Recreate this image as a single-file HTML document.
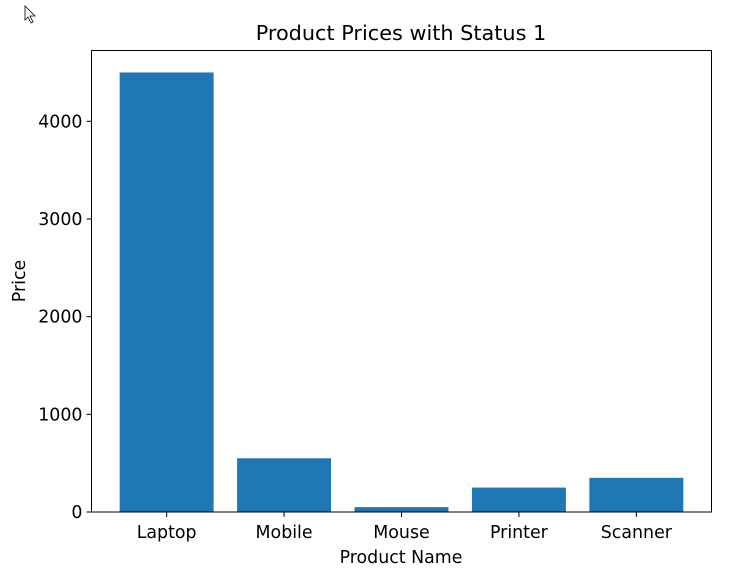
<!DOCTYPE html>
<html><head><meta charset="utf-8"><style>
html,body{margin:0;padding:0;background:#fff;}
svg text{font-family:"DejaVu Sans","Liberation Sans",sans-serif;fill:#000;}
</style></head><body>
<svg id="chart" width="754" height="573" viewBox="0 0 754 573" xmlns="http://www.w3.org/2000/svg">
<path d="M25,6 L25,20 L28,17 L31,23 L33,22 L30,16 L35,16 Z" fill="#fff" stroke="#000" stroke-width="0.8"/>
<text x="401" y="40" font-size="20.8" text-anchor="middle">Product Prices with Status 1</text>
<g id="bars"></g>
<g id="axes"></g>
<rect x="91.5" y="50.5" width="620" height="461.5" fill="none" stroke="#000" stroke-width="1"/>
<text x="401" y="563" font-size="17.4" text-anchor="middle">Product Name</text>
<text transform="translate(25,281) rotate(-90)" font-size="17.4" text-anchor="middle">Price</text>
</svg>
<script>
const categories = ["Laptop","Mobile","Mouse","Printer","Scanner"];
const prices = [4500, 550, 50, 250, 350];
const yTicks = [0, 1000, 2000, 3000, 4000];
const yTickLabels = ["0","1000","2000","3000","4000"];

const L=91.5,R=711.5,T=50.5,B=512;
const xMin=-0.64,xMax=categories.length-1+0.64;
const yMax=Math.max(...prices)*1.05;
const x=i=>L+(i-xMin)/(xMax-xMin)*(R-L);
const y=v=>B-v/yMax*(B-T);
const ns="http://www.w3.org/2000/svg";
const bars=document.getElementById('bars'),axes=document.getElementById('axes');
const bw=0.8*(R-L)/(xMax-xMin);
prices.forEach((v,i)=>{
  const r=document.createElementNS(ns,'rect');
  
  
  r.setAttribute('x',x(i)-bw/2);r.setAttribute('width',bw);
  r.setAttribute('y',y(v));r.setAttribute('height',B-y(v));
  r.setAttribute('fill','#1f77b4');
  bars.appendChild(r);
});
categories.forEach((c,i)=>{
  const t=document.createElementNS(ns,'line');
  
  
  t.setAttribute('x1',x(i));t.setAttribute('x2',x(i));t.setAttribute('y1',B);t.setAttribute('y2',B+5);
  t.setAttribute('stroke','#000');axes.appendChild(t);
  const l=document.createElementNS(ns,'text');
  
  
  l.setAttribute('x',x(i));l.setAttribute('y',B+26);l.setAttribute('font-size','17.4');l.setAttribute('text-anchor','middle');
  l.textContent=c;axes.appendChild(l);
});
yTicks.forEach((v,i)=>{
  const t=document.createElementNS(ns,'line');
  
  
  t.setAttribute('x1',L-5);t.setAttribute('x2',L);t.setAttribute('y1',y(v));t.setAttribute('y2',y(v));
  t.setAttribute('stroke','#000');axes.appendChild(t);
  const l=document.createElementNS(ns,'text');
  
  
  l.setAttribute('x',L-9);l.setAttribute('y',y(v)+6);l.setAttribute('font-size','17.4');l.setAttribute('text-anchor','end');
  l.textContent=yTickLabels[i];axes.appendChild(l);
});
</script>
</body></html>
